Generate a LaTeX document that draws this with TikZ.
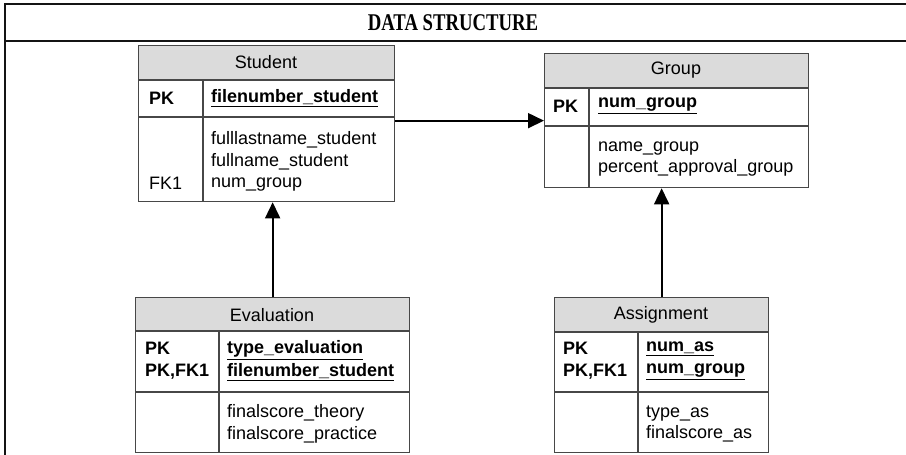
\documentclass[tikz,border=0pt]{standalone}
\usepackage{fontspec}
\setmainfont{Liberation Serif}
\newfontfamily\arialf{Liberation Sans}
\usetikzlibrary{arrows.meta}
\tikzset{
  tbl/.style={draw=black!72, line width=1.3pt, rectangle, inner sep=0pt, anchor=north west},
  hdrfill/.style={fill=black!14},
  sepline/.style={draw=black!72, line width=1.3pt},
  txt/.style={font=\arialf\fontsize{18}{21.7}\selectfont, inner sep=0pt, align=left, anchor=west},
  htxt/.style={font=\arialf\fontsize{18}{21.7}\selectfont, inner sep=0pt},
  ktxt/.style={font=\arialf\bfseries\fontsize{18}{22.5}\selectfont, inner sep=0pt, align=left, anchor=west},
  arr/.style={draw=black, line width=1.7pt, -{Triangle[length=16pt,width=15pt]}},
  frame/.style={draw=black!92, line width=2.3pt}
}
\begin{document}
\begin{tikzpicture}[x=1pt,y=-1pt]
\useasboundingbox (0,0) rectangle (906,455);
% outer frame
\draw[frame] (5,455) -- (5,4) -- (906,4);
\draw[frame] (5,41) -- (906,41);
\node[font=\bfseries\fontsize{24}{26}\selectfont, inner sep=0pt, xscale=0.78] (title) at (453,23) {DATA STRUCTURE};

% ---------- Student ----------
\fill[hdrfill] (138,45) rectangle (394,80);
\node[tbl, minimum width=256pt, minimum height=156pt] (student) at (138,45) {};
\draw[sepline] (138,80) -- (394,80);
\draw[sepline] (138,117) -- (394,117);
\draw[sepline] (203,80) -- (203,201);
\node[htxt] (studentH) at (266,62.5) {Student};
\node[ktxt] (studentPK) at (149,98) {PK};
\node[ktxt] (studentPKa) at (211,98) {\underline{filenumber\_student}};
\node[txt] (studentAt) at (211,161.5) {fulllastname\_student\\fullname\_student\\num\_group};
\node[txt] (studentFK) at (149,183.5) {FK1};

% ---------- Group ----------
\fill[hdrfill] (544,53) rectangle (808,88);
\node[tbl, minimum width=264pt, minimum height=134pt] (group) at (544,53) {};
\draw[sepline] (544,88) -- (808,88);
\draw[sepline] (544,126) -- (808,126);
\draw[sepline] (589,88) -- (589,187);
\node[htxt] (groupH) at (676,70.5) {Group};
\node[ktxt] (groupPK) at (553,106) {PK};
\node[ktxt] (groupPKa) at (598,106) {\underline{num\_group}};
\node[txt] (groupAt) at (598,159) {name\_group\\percent\_approval\_group};

% ---------- Evaluation ----------
\fill[hdrfill] (135,297) rectangle (409,331);
\node[tbl, minimum width=274pt, minimum height=155pt] (eval) at (135,297) {};
\draw[sepline] (135,331) -- (409,331);
\draw[sepline] (135,392) -- (409,392);
\draw[sepline] (219,331) -- (219,452);
\node[htxt] (evalH) at (272,315) {Evaluation};
\node[ktxt] (evalPK) at (145,360.5) {PK\\PK,FK1};
\node[ktxt] (evalPKa) at (227,360.5) {\underline{type\_evaluation}\\\underline{filenumber\_student}};
\node[txt] (evalAt) at (227,424) {finalscore\_theory\\finalscore\_practice};

% ---------- Assignment ----------
\fill[hdrfill] (554,297) rectangle (768,332);
\node[tbl, minimum width=214pt, minimum height=155pt] (assign) at (554,297) {};
\draw[sepline] (554,332) -- (768,332);
\draw[sepline] (554,392) -- (768,392);
\draw[sepline] (638,332) -- (638,452);
\node[htxt] (assignH) at (661,315) {Assignment};
\node[ktxt] (assignPK) at (563,360.5) {PK\\PK,FK1};
\node[ktxt] (assignPKa) at (646,360.5) {\underline{num\_as}\\\underline{num\_group}};
\node[txt] (assignAt) at (646,424) {type\_as\\finalscore\_as};

% ---------- connectors ----------
\draw[arr] (student.east |- group.west) -- (group.west);
\draw[arr] (eval.north) -- (eval.north |- student.south);
\draw[arr] (assign.north) -- (assign.north |- group.south);
\end{tikzpicture}
\end{document}
